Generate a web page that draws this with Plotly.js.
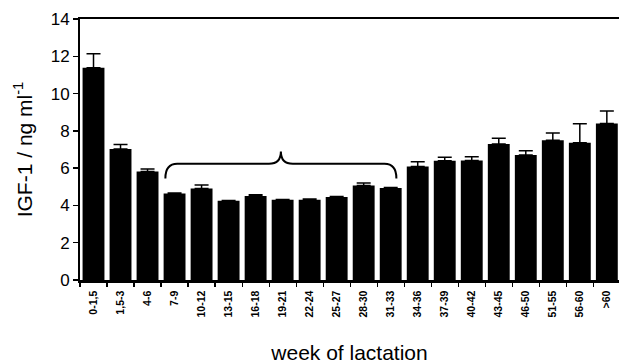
<!DOCTYPE html>
<html>
<head>
<meta charset="utf-8">
<script src="https://cdn.plot.ly/plotly-3.0.1.min.js"></script>
<style>html,body{margin:0;padding:0;background:#fff;}#chart{width:619px;height:364px;}</style>
</head>
<body>
<div id="chart"></div>
<script>
// Data
const weeks = ["0-1,5","1,5-3","4-6","7-9","10-12","13-15","16-18","19-21","22-24","25-27",
               "28-30","31-33","34-36","37-39","40-42","43-45","46-50","51-55","56-60",">60"];
const igf1Mean = [11.39, 7.03, 5.82, 4.64, 4.91, 4.25, 4.50, 4.30, 4.30, 4.45,
                  5.07, 4.93, 6.09, 6.39, 6.41, 7.29, 6.70, 7.50, 7.36, 8.39];
const igf1Sem  = [0.74, 0.24, 0.13, 0.03, 0.18, 0.02, 0.07, 0.02, 0.04, 0.03,
                  0.13, 0.03, 0.25, 0.20, 0.20, 0.32, 0.23, 0.39, 1.02, 0.68];
const yTicks = [0, 2, 4, 6, 8, 10, 12, 14];
// Brace spanning weeks 7-9 .. 31-33 (category index units / IGF-1 units)
const braceFrom = 2.66, braceTo = 11.21, braceLevel = 6.23, bracePeak = 6.89, braceEnd = 5.45;

const mid = (braceFrom + braceTo) / 2;
const r = 0.44;
const bracePath =
  `M ${braceFrom},${braceEnd} Q ${braceFrom},${braceLevel} ${braceFrom + r},${braceLevel} ` +
  `L ${mid - r},${braceLevel} Q ${mid},${braceLevel} ${mid},${bracePeak} ` +
  `Q ${mid},${braceLevel} ${mid + r},${braceLevel} ` +
  `L ${braceTo - r},${braceLevel} Q ${braceTo},${braceLevel} ${braceTo},${braceEnd}`;

const font = "Liberation Sans, Arial, Helvetica, sans-serif";

const trace = {
  type: "bar",
  x: weeks,
  y: igf1Mean,
  marker: {color: "#000", line: {width: 0}},
  error_y: {type: "data", symmetric: false, array: igf1Sem,
            arrayminus: igf1Sem.map(() => 0), color: "#000", thickness: 1.5, width: 7},
  hoverinfo: "x+y"
};

const layout = {
  width: 619, height: 364,
  margin: {l: 80, r: 0, t: 19, b: 84},
  paper_bgcolor: "#fff", plot_bgcolor: "#fff",
  showlegend: false,
  bargap: 0.19,
  font: {family: font, color: "#000"},
  xaxis: {
    type: "category",
    range: [-0.5, 19.45],
    tickson: "boundaries",
    ticks: "outside", ticklen: 4, tickwidth: 1.2, tickcolor: "#000",
    tickangle: -90,
    ticklabelstandoff: 4,
    tickfont: {family: "Liberation Sans, Arial", size: 10.5, color: "#000", weight: "bold"},
    showline: true, linecolor: "#000", linewidth: 2.5, mirror: true,
    showgrid: false, zeroline: false,
    title: {text: "week of lactation", font: {size: 21, color: "#000"}, standoff: 32}
  },
  yaxis: {
    range: [0, 14],
    tickvals: yTicks,
    ticks: "outside", ticklen: 5, tickwidth: 1.5, tickcolor: "#000",
    tickfont: {size: 17, color: "#000"},
    showline: true, linecolor: "#000", linewidth: 2,
    showgrid: false, zeroline: false,
    title: {text: "IGF-1 / ng ml<sup>-1</sup>", font: {size: 21, color: "#000"}, standoff: 12}
  },
  shapes: [{
    type: "path", xref: "x", yref: "y", path: bracePath,
    line: {color: "#000", width: 2}
  }]
};

Plotly.newPlot("chart", [trace], layout, {displayModeBar: false, staticPlot: true});
</script>
</body>
</html>
